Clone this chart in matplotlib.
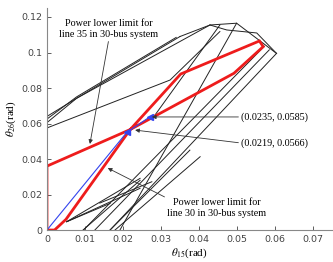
import matplotlib
matplotlib.use("Agg")
import matplotlib.pyplot as plt

# red feasible-region boundary (theta15, theta26)
red_x = [0, 0, 0.0219, 0.0492, 0.0569, 0.0559, 0.0352, 0.0219, 0.005, 0.002, 0]
red_y = [0, 0.036, 0.0566, 0.0883, 0.1033, 0.1065, 0.0879, 0.0566, 0.006, 0, 0]

# blue path and its two end points
blue_x = [0, 0.021, 0.0271]
blue_y = [0, 0.055, 0.0638]

# black wireframe of the line power limits
wire = [
    ([0, 0.0078, 0.035], [0.0605, 0.0742, 0.109]),
    ([0, 0.0078, 0.034], [0.0625, 0.075, 0.1085]),
    ([0, 0.0078, 0.0429, 0.0499, 0.0604], [0.064, 0.0742, 0.1155, 0.1165, 0.0995]),
    ([0, 0.0324, 0.0455], [0.0575, 0.0845, 0.1118]),
    ([0.035, 0.0429], [0.109, 0.1155]),
    ([0.0429, 0.0473, 0.0552, 0.0604], [0.1155, 0.1127, 0.111, 0.0995]),
    ([0.0604, 0.0166], [0.0995, 0]),
    ([0.0585, 0.0126], [0.1015, 0]),
    ([0.0572, 0.0096], [0.1035, 0]),
    ([0.0499, 0.0192], [0.1165, 0]),
    ([0.0455, 0.0281], [0.1155, 0.0638]),
    ([0.0052, 0.0245], [0.0047, 0.0291]),
    ([0.0052, 0.0245], [0.0047, 0.0235]),
    ([0.0052, 0.0166], [0.0047, 0.015]),
    ([0.0095, 0.0245], [0, 0.028]),
    ([0.0166, 0.0376], [0, 0.045]),
    ([0.0179, 0.0403], [0, 0.0413]),
    ([0.0139, 0.0276], [0.0152, 0.0272]),
]

xticks = [0, 0.01, 0.02, 0.03, 0.04, 0.05, 0.06, 0.07]
xtick_labels = ["0", "0.01", "0.02", "0.03", "0.04", "0.05", "0.06", "0.07"]
yticks = [0, 0.02, 0.04, 0.06, 0.08, 0.1, 0.12]
ytick_labels = ["0", "0.02", "0.04", "0.06", "0.08", "0.1", "0.12"]

plt.rcParams["mathtext.fontset"] = "stix"
fig = plt.figure(figsize=(3.33, 2.62), dpi=100)
ax = fig.add_axes([0.141, 0.122, 0.856, 0.847])

for xs, ys in wire:
    ax.plot(xs, ys, color="#222222", lw=0.7)
ax.plot(red_x, red_y, color="#ee1c1c", lw=2.0, solid_joinstyle="miter")
ax.plot(blue_x, blue_y, color="#3344ee", lw=0.8)
ax.plot(blue_x[1:], blue_y[1:], ls="none", marker="<", color="#3344ee", ms=4)

serif = "Liberation Serif"
fs = 7.3
arrow = dict(arrowstyle="-|>", lw=0.6, color="#333333", mutation_scale=6, shrinkA=0, shrinkB=0)
ax.annotate("Power lower limit for\nline 35 in 30-bus system", xy=(0.0113, 0.0485),
            xytext=(0.0163, 0.1132), ha="center", va="center", fontsize=fs,
            family=serif, arrowprops=dict(arrow, relpos=(0.5, 0)))
ax.annotate("Power lower limit for\nline 30 in 30-bus system", xy=(0.016, 0.0349),
            xytext=(0.0447, 0.0124), ha="center", va="center", fontsize=fs,
            family=serif, arrowprops=dict(arrow, relpos=(0.0, 1)))
ax.annotate("(0.0235, 0.0585)", xy=(0.0276, 0.0637), xytext=(0.0511, 0.0637),
            ha="left", va="center", fontsize=fs, family=serif,
            arrowprops=dict(arrow, relpos=(0, 0.5)))
ax.annotate("(0.0219, 0.0566)", xy=(0.0232, 0.0563), xytext=(0.0511, 0.049),
            ha="left", va="center", fontsize=fs, family=serif,
            arrowprops=dict(arrow, relpos=(0, 0.5)))

ax.set_xlim(0, 0.075)
ax.set_ylim(0, 0.125)
ax.set_xticks(xticks)
ax.set_xticklabels(xtick_labels)
ax.set_yticks(yticks)
ax.set_yticklabels(ytick_labels)
ax.tick_params(direction="in", length=3, width=0.6, labelsize=6.8, colors="#444444")
for s in ["top", "right"]:
    ax.spines[s].set_visible(False)
for s in ["left", "bottom"]:
    ax.spines[s].set_color("#888888")
    ax.spines[s].set_linewidth(0.8)
ax.set_xlabel(r"$\theta_{15}$(rad)", fontsize=8, family=serif, labelpad=2)
ax.set_ylabel(r"$\theta_{26}$(rad)", fontsize=8, family=serif, labelpad=2)

fig.savefig("out.png", dpi=100)
